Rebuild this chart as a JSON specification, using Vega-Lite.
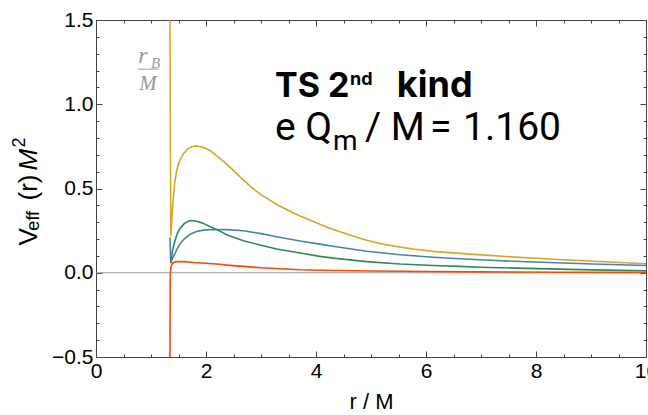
{
  "$schema": "https://vega.github.io/schema/vega-lite/v6.json",
  "width": 550,
  "height": 337,
  "autosize": {"type": "none"},
  "padding": {"left": 96, "top": 20, "right": 2, "bottom": 58},
  "background": "white",
  "config": {
    "view": {"stroke": "#444", "strokeWidth": 1},
    "axis": {"domain": false, "grid": false, "labelFont": "Liberation Sans", "labelFontSize": 21, "labelColor": "#000", "tickColor": "#444", "tickWidth": 1, "labelFlush": false, "labelOverlap": false}
  },
  "datasets": {
    "curves": [
      {"s": "yellow", "i": 0, "r": 1.345, "V": 1.5},
      {"s": "yellow", "i": 1, "r": 1.36, "V": 0.22},
      {"s": "yellow", "i": 2, "r": 1.375, "V": 0.3},
      {"s": "yellow", "i": 3, "r": 1.39, "V": 0.38},
      {"s": "yellow", "i": 4, "r": 1.406, "V": 0.448},
      {"s": "yellow", "i": 5, "r": 1.43, "V": 0.53},
      {"s": "yellow", "i": 6, "r": 1.467, "V": 0.607},
      {"s": "yellow", "i": 7, "r": 1.52, "V": 0.665},
      {"s": "yellow", "i": 8, "r": 1.588, "V": 0.706},
      {"s": "yellow", "i": 9, "r": 1.67, "V": 0.735},
      {"s": "yellow", "i": 10, "r": 1.75, "V": 0.749},
      {"s": "yellow", "i": 11, "r": 1.83, "V": 0.752},
      {"s": "yellow", "i": 12, "r": 1.95, "V": 0.745},
      {"s": "yellow", "i": 13, "r": 2.07, "V": 0.726},
      {"s": "yellow", "i": 14, "r": 2.2, "V": 0.692},
      {"s": "yellow", "i": 15, "r": 2.376, "V": 0.645},
      {"s": "yellow", "i": 16, "r": 2.53, "V": 0.597},
      {"s": "yellow", "i": 17, "r": 2.68, "V": 0.55},
      {"s": "yellow", "i": 18, "r": 2.83, "V": 0.507},
      {"s": "yellow", "i": 19, "r": 2.98, "V": 0.468},
      {"s": "yellow", "i": 20, "r": 3.285, "V": 0.405},
      {"s": "yellow", "i": 21, "r": 3.59, "V": 0.355},
      {"s": "yellow", "i": 22, "r": 3.71, "V": 0.337},
      {"s": "yellow", "i": 23, "r": 4.07, "V": 0.288},
      {"s": "yellow", "i": 24, "r": 4.31, "V": 0.257},
      {"s": "yellow", "i": 25, "r": 4.6, "V": 0.225},
      {"s": "yellow", "i": 26, "r": 4.92, "V": 0.193},
      {"s": "yellow", "i": 27, "r": 5.2, "V": 0.171},
      {"s": "yellow", "i": 28, "r": 5.53, "V": 0.152},
      {"s": "yellow", "i": 29, "r": 5.8, "V": 0.139},
      {"s": "yellow", "i": 30, "r": 6.13, "V": 0.127},
      {"s": "yellow", "i": 31, "r": 6.62, "V": 0.115},
      {"s": "yellow", "i": 32, "r": 7.0, "V": 0.106},
      {"s": "yellow", "i": 33, "r": 7.83, "V": 0.089},
      {"s": "yellow", "i": 34, "r": 8.5, "V": 0.077},
      {"s": "yellow", "i": 35, "r": 9.04, "V": 0.068},
      {"s": "yellow", "i": 36, "r": 10, "V": 0.053},
      {"s": "blue", "i": 0, "r": 1.345, "V": 0.21},
      {"s": "blue", "i": 1, "r": 1.36, "V": 0.06},
      {"s": "blue", "i": 2, "r": 1.39, "V": 0.085},
      {"s": "blue", "i": 3, "r": 1.436, "V": 0.115},
      {"s": "blue", "i": 4, "r": 1.48, "V": 0.145},
      {"s": "blue", "i": 5, "r": 1.527, "V": 0.171},
      {"s": "blue", "i": 6, "r": 1.6, "V": 0.2},
      {"s": "blue", "i": 7, "r": 1.71, "V": 0.228},
      {"s": "blue", "i": 8, "r": 1.83, "V": 0.245},
      {"s": "blue", "i": 9, "r": 1.95, "V": 0.253},
      {"s": "blue", "i": 10, "r": 2.15, "V": 0.257},
      {"s": "blue", "i": 11, "r": 2.376, "V": 0.256},
      {"s": "blue", "i": 12, "r": 2.68, "V": 0.249},
      {"s": "blue", "i": 13, "r": 3.0, "V": 0.232},
      {"s": "blue", "i": 14, "r": 3.285, "V": 0.214},
      {"s": "blue", "i": 15, "r": 3.71, "V": 0.188},
      {"s": "blue", "i": 16, "r": 4.07, "V": 0.17},
      {"s": "blue", "i": 17, "r": 4.31, "V": 0.157},
      {"s": "blue", "i": 18, "r": 4.92, "V": 0.128},
      {"s": "blue", "i": 19, "r": 5.53, "V": 0.107},
      {"s": "blue", "i": 20, "r": 6.13, "V": 0.092},
      {"s": "blue", "i": 21, "r": 6.62, "V": 0.083},
      {"s": "blue", "i": 22, "r": 6.98, "V": 0.077},
      {"s": "blue", "i": 23, "r": 7.83, "V": 0.065},
      {"s": "blue", "i": 24, "r": 9.04, "V": 0.052},
      {"s": "blue", "i": 25, "r": 10, "V": 0.043},
      {"s": "green", "i": 0, "r": 1.36, "V": 0.06},
      {"s": "green", "i": 1, "r": 1.39, "V": 0.13},
      {"s": "green", "i": 2, "r": 1.436, "V": 0.19},
      {"s": "green", "i": 3, "r": 1.48, "V": 0.235},
      {"s": "green", "i": 4, "r": 1.527, "V": 0.262},
      {"s": "green", "i": 5, "r": 1.6, "V": 0.29},
      {"s": "green", "i": 6, "r": 1.67, "V": 0.305},
      {"s": "green", "i": 7, "r": 1.74, "V": 0.31},
      {"s": "green", "i": 8, "r": 1.83, "V": 0.306},
      {"s": "green", "i": 9, "r": 1.95, "V": 0.293},
      {"s": "green", "i": 10, "r": 2.1, "V": 0.27},
      {"s": "green", "i": 11, "r": 2.25, "V": 0.247},
      {"s": "green", "i": 12, "r": 2.376, "V": 0.226},
      {"s": "green", "i": 13, "r": 2.68, "V": 0.19},
      {"s": "green", "i": 14, "r": 3.0, "V": 0.163},
      {"s": "green", "i": 15, "r": 3.285, "V": 0.141},
      {"s": "green", "i": 16, "r": 3.71, "V": 0.117},
      {"s": "green", "i": 17, "r": 4.07, "V": 0.097},
      {"s": "green", "i": 18, "r": 4.31, "V": 0.087},
      {"s": "green", "i": 19, "r": 4.92, "V": 0.066},
      {"s": "green", "i": 20, "r": 5.53, "V": 0.052},
      {"s": "green", "i": 21, "r": 6.13, "V": 0.043},
      {"s": "green", "i": 22, "r": 6.62, "V": 0.038},
      {"s": "green", "i": 23, "r": 6.98, "V": 0.033},
      {"s": "green", "i": 24, "r": 7.83, "V": 0.026},
      {"s": "green", "i": 25, "r": 9.04, "V": 0.017},
      {"s": "green", "i": 26, "r": 10, "V": 0.012},
      {"s": "red", "i": 0, "r": 1.345, "V": -0.5},
      {"s": "red", "i": 1, "r": 1.348, "V": -0.1},
      {"s": "red", "i": 2, "r": 1.352, "V": 0.0},
      {"s": "red", "i": 3, "r": 1.362, "V": 0.035},
      {"s": "red", "i": 4, "r": 1.38, "V": 0.05},
      {"s": "red", "i": 5, "r": 1.406, "V": 0.06},
      {"s": "red", "i": 6, "r": 1.46, "V": 0.066},
      {"s": "red", "i": 7, "r": 1.527, "V": 0.067},
      {"s": "red", "i": 8, "r": 1.6, "V": 0.066},
      {"s": "red", "i": 9, "r": 1.77, "V": 0.061},
      {"s": "red", "i": 10, "r": 2.0, "V": 0.056},
      {"s": "red", "i": 11, "r": 2.25, "V": 0.05},
      {"s": "red", "i": 12, "r": 2.38, "V": 0.045},
      {"s": "red", "i": 13, "r": 3.0, "V": 0.03},
      {"s": "red", "i": 14, "r": 3.71, "V": 0.018},
      {"s": "red", "i": 15, "r": 4.07, "V": 0.015},
      {"s": "red", "i": 16, "r": 5.0, "V": 0.01},
      {"s": "red", "i": 17, "r": 6.0, "V": 0.007},
      {"s": "red", "i": 18, "r": 7.0, "V": 0.005},
      {"s": "red", "i": 19, "r": 8.5, "V": 0.003},
      {"s": "red", "i": 20, "r": 10, "V": 0.002}
    ]
  },
  "resolve": {"axis": {"x": "independent", "y": "independent"}},
  "layer": [
    {
      "data": {"values": [{"r": 0, "r2": 10, "V": 0}]},
      "mark": {"type": "rule", "color": "#999", "strokeWidth": 1},
      "encoding": {
        "x": {"field": "r", "type": "quantitative", "scale": {"domain": [0, 10], "nice": false, "zero": false},
          "axis": {"orient": "top", "title": null, "labels": false, "values": [0,2,4,6,8,10], "tickSize": 6, "offset": -6}},
        "x2": {"field": "r2"},
        "y": {"field": "V", "type": "quantitative", "scale": {"domain": [-0.5, 1.5], "nice": false, "zero": false},
          "axis": {"orient": "right", "title": null, "labels": false, "values": [-0.5,0,0.5,1,1.5], "tickSize": 6, "offset": -6}}
      }
    },
    {
      "data": {"values": [{"r": 0, "V": 0}]},
      "mark": {"type": "point", "opacity": 0},
      "encoding": {
        "x": {"field": "r", "type": "quantitative",
          "axis": {"orient": "top", "title": null, "labels": false, "values": [0.5,1,1.5,2.5,3,3.5,4.5,5,5.5,6.5,7,7.5,8.5,9,9.5], "tickSize": 3, "offset": -3}},
        "y": {"field": "V", "type": "quantitative",
          "axis": {"orient": "right", "title": null, "labels": false, "values": [-0.4,-0.3,-0.2,-0.1,0.1,0.2,0.3,0.4,0.6,0.7,0.8,0.9,1.1,1.2,1.3,1.4], "tickSize": 3, "offset": -3}}
      }
    },
    {
      "data": {"values": [{"r": 0, "V": 0}]},
      "mark": {"type": "point", "opacity": 0},
      "encoding": {
        "x": {"field": "r", "type": "quantitative",
          "axis": {"orient": "bottom", "title": null, "labels": false, "values": [0.5,1,1.5,2.5,3,3.5,4.5,5,5.5,6.5,7,7.5,8.5,9,9.5], "tickSize": 3, "offset": -3}},
        "y": {"field": "V", "type": "quantitative",
          "axis": {"orient": "left", "title": null, "labels": false, "values": [-0.4,-0.3,-0.2,-0.1,0.1,0.2,0.3,0.4,0.6,0.7,0.8,0.9,1.1,1.2,1.3,1.4], "tickSize": 3, "offset": -3}}
      }
    },
    {
      "data": {"name": "curves"},
      "mark": {"type": "line", "strokeWidth": 1.6, "clip": true, "strokeJoin": "round"},
      "encoding": {
        "x": {"field": "r", "type": "quantitative",
          "axis": {"orient": "bottom", "title": "r / M", "titleFont": "Liberation Sans", "titleFontSize": 22, "titleFontWeight": "normal", "titleColor": "#000", "titlePadding": 10,
            "values": [0,2,4,6,8,10], "format": "d", "labelPadding": 3, "tickSize": 6, "offset": -6}},
        "y": {"field": "V", "type": "quantitative",
          "axis": {"orient": "left", "title": null, "format": ".1f",
            "values": [-0.5,0,0.5,1,1.5], "labelPadding": 3, "tickSize": 6, "offset": -6}},
        "color": {"field": "s", "type": "nominal", "scale": {"domain": ["yellow", "blue", "green", "red"], "range": ["#DAA520", "#4682B4", "#2E8B57", "#FF4500"]}, "legend": null},
        "order": {"field": "i", "type": "quantitative"}
      }
    },
    {
      "data": {"values": [{"r": 0.764, "r2": 1.127, "V": 1.208}]},
      "mark": {"type": "rule", "color": "#999", "strokeWidth": 1},
      "encoding": {
        "x": {"field": "r", "type": "quantitative", "axis": null},
        "x2": {"field": "r2"},
        "y": {"field": "V", "type": "quantitative", "axis": null}
      }
    },
    {
      "data": {"values": [{"r": 0.77, "V": 1.244, "t": "r"}]},
      "mark": {"type": "text", "font": "Liberation Serif", "fontStyle": "italic", "fontSize": 24, "color": "#999", "align": "left", "baseline": "alphabetic"},
      "encoding": {
        "x": {"field": "r", "type": "quantitative", "axis": null},
        "y": {"field": "V", "type": "quantitative", "axis": null},
        "text": {"field": "t"}
      }
    },
    {
      "data": {"values": [{"r": 0.945, "V": 1.083, "t": "M"}]},
      "mark": {"type": "text", "font": "Liberation Serif", "fontStyle": "italic", "fontSize": 21, "color": "#999", "align": "center", "baseline": "alphabetic"},
      "encoding": {
        "x": {"field": "r", "type": "quantitative", "axis": null},
        "y": {"field": "V", "type": "quantitative", "axis": null},
        "text": {"field": "t"}
      }
    },
    {
      "data": {"values": [{"r": 1.0, "V": 1.218, "t": "B"}]},
      "mark": {"type": "text", "font": "Liberation Serif", "fontStyle": "italic", "fontSize": 15, "color": "#999", "align": "left", "baseline": "alphabetic"},
      "encoding": {
        "x": {"field": "r", "type": "quantitative", "axis": null},
        "y": {"field": "V", "type": "quantitative", "axis": null},
        "text": {"field": "t"}
      }
    },
    {
      "data": {"values": [{"r": 3.2545, "V": 1.0417, "t": "TS 2"}]},
      "mark": {"type": "text", "font": "Inter", "fontWeight": "bold", "fontSize": 34, "color": "#000", "align": "left", "baseline": "alphabetic"},
      "encoding": {
        "x": {"field": "r", "type": "quantitative", "axis": null},
        "y": {"field": "V", "type": "quantitative", "axis": null},
        "text": {"field": "t"}
      }
    },
    {
      "data": {"values": [{"r": 5.47, "V": 1.0417, "t": "kind"}]},
      "mark": {"type": "text", "font": "Inter", "fontWeight": "bold", "fontSize": 36, "color": "#000", "align": "left", "baseline": "alphabetic"},
      "encoding": {
        "x": {"field": "r", "type": "quantitative", "axis": null},
        "y": {"field": "V", "type": "quantitative", "axis": null},
        "text": {"field": "t"}
      }
    },
    {
      "data": {"values": [{"r": 4.62, "V": 1.113, "t": "nd"}]},
      "mark": {"type": "text", "font": "Inter", "fontWeight": "bold", "fontSize": 18, "color": "#000", "align": "left", "baseline": "alphabetic"},
      "encoding": {
        "x": {"field": "r", "type": "quantitative", "axis": null},
        "y": {"field": "V", "type": "quantitative", "axis": null},
        "text": {"field": "t"}
      }
    },
    {
      "data": {"values": [{"r": 3.2545, "V": 0.7857, "t": "e Q"}, {"r": 4.89, "V": 0.7857, "t": "/ M"}, {"r": 6.073, "V": 0.7857, "t": "="}, {"r": 6.673, "V": 0.7857, "t": "1.160"}]},
      "mark": {"type": "text", "font": "Roboto", "fontSize": 39, "color": "#000", "align": "left", "baseline": "alphabetic"},
      "encoding": {
        "x": {"field": "r", "type": "quantitative", "axis": null},
        "y": {"field": "V", "type": "quantitative", "axis": null},
        "text": {"field": "t"}
      }
    },
    {
      "data": {"values": [{"r": 4.31, "V": 0.726, "t": "m"}]},
      "mark": {"type": "text", "font": "Roboto", "fontSize": 28, "color": "#000", "align": "left", "baseline": "alphabetic"},
      "encoding": {
        "x": {"field": "r", "type": "quantitative", "axis": null},
        "y": {"field": "V", "type": "quantitative", "axis": null},
        "text": {"field": "t"}
      }
    },
    {
      "data": {"values": [{"r": -1.073, "V": 0.161, "t": "V"}, {"r": -1.073, "V": 0.4286, "t": "(r)"}]},
      "mark": {"type": "text", "font": "Liberation Sans", "fontSize": 26, "color": "#000", "align": "left", "baseline": "alphabetic", "angle": 270},
      "encoding": {
        "x": {"field": "r", "type": "quantitative", "axis": null},
        "y": {"field": "V", "type": "quantitative", "axis": null},
        "text": {"field": "t"}
      }
    },
    {
      "data": {"values": [{"r": -1.073, "V": 0.607, "t": "M"}]},
      "mark": {"type": "text", "font": "Liberation Sans", "fontStyle": "italic", "fontSize": 26, "color": "#000", "align": "left", "baseline": "alphabetic", "angle": 270},
      "encoding": {
        "x": {"field": "r", "type": "quantitative", "axis": null},
        "y": {"field": "V", "type": "quantitative", "axis": null},
        "text": {"field": "t"}
      }
    },
    {
      "data": {"values": [{"r": -1.036, "V": 0.25, "t": "eff"}, {"r": -1.29, "V": 0.744, "t": "2"}]},
      "mark": {"type": "text", "font": "Liberation Sans", "fontSize": 18, "color": "#000", "align": "left", "baseline": "alphabetic", "angle": 270},
      "encoding": {
        "x": {"field": "r", "type": "quantitative", "axis": null},
        "y": {"field": "V", "type": "quantitative", "axis": null},
        "text": {"field": "t"}
      }
    }
  ]
}
